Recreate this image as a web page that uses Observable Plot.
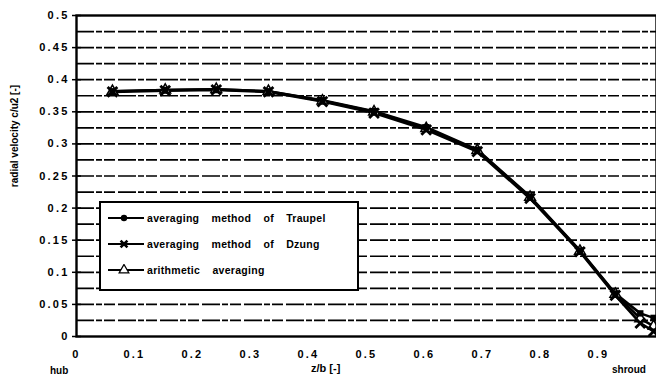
<!DOCTYPE html>
<html>
<head>
<meta charset="utf-8">
<script src="https://cdn.jsdelivr.net/npm/d3@7"></script>
<script src="https://cdn.jsdelivr.net/npm/@observablehq/plot@0.6"></script>
<style>
  html, body { margin: 0; padding: 0; background: #fff; }
  #wrap { position: relative; width: 656px; height: 379px; overflow: hidden; font-family: "Liberation Sans", Arial, sans-serif; font-weight: bold; color: #000; }
  #wrap svg text { letter-spacing: 2.2px; }
  .lbl { position: absolute; font-size: 10px; white-space: nowrap; line-height: 1; }
  #legend { position: absolute; left: 99px; top: 201px; width: 256px; height: 86px; border: 2px solid #000; background: #fff; }
  .entry { position: absolute; left: 20px; height: 12px; display: flex; align-items: center; font-size: 10.5px; word-spacing: 9px; letter-spacing: 0.3px; white-space: nowrap; }
  .entry svg { margin-right: 3px; }
</style>
</head>
<body>
<div id="wrap"></div>
<script>
// z/b positions of the measuring points
const zb = [0.062, 0.153, 0.241, 0.331, 0.424, 0.513, 0.603, 0.691, 0.782, 0.868, 0.929, 0.972, 0.995];
// averaging method of Traupel
const traupel = [0.382, 0.384, 0.385, 0.382, 0.368, 0.351, 0.326, 0.291, 0.218, 0.134, 0.067, 0.036, 0.029];
// averaging method of Dzung
const dzung = [0.381, 0.383, 0.384, 0.381, 0.366, 0.348, 0.322, 0.288, 0.215, 0.132, 0.064, 0.021, 0.008];
// arithmetic averaging
const arith = [0.382, 0.384, 0.385, 0.382, 0.367, 0.350, 0.324, 0.290, 0.217, 0.133, 0.066, 0.028, 0.016];

const seriesNames = ["averaging method of Traupel", "averaging method of Dzung", "arithmetic averaging"];
const yTicks = [0, 0.05, 0.1, 0.15, 0.2, 0.25, 0.3, 0.35, 0.4, 0.45, 0.5];
const xTicks = [0, 0.1, 0.2, 0.3, 0.4, 0.5, 0.6, 0.7, 0.8, 0.9];
const gridY = [0.025, 0.05, 0.075, 0.1, 0.125, 0.15, 0.175, 0.2, 0.225, 0.25, 0.275, 0.3, 0.325, 0.35, 0.375, 0.4, 0.425, 0.45, 0.475];

const rows = [];
zb.forEach((z, i) => {
  rows.push({z, v: traupel[i], s: seriesNames[0]});
  rows.push({z, v: dzung[i], s: seriesNames[1]});
  rows.push({z, v: arith[i], s: seriesNames[2]});
});

const chart = Plot.plot({
  width: 656,
  height: 379,
  marginLeft: 76,
  marginRight: 0,
  marginTop: 15,
  marginBottom: 43,
  style: {fontFamily: "'Liberation Sans', Arial, sans-serif", fontSize: "11px", fontWeight: "bold", color: "#000", background: "#fff"},
  x: {domain: [0, 1]},
  y: {domain: [0, 0.5]},
  marks: [
    Plot.ruleY(gridY, {stroke: "#000", strokeWidth: 1.7, strokeDasharray: "18,2,6,2,11,3"}),
    Plot.axisY({ticks: yTicks, tickSize: 9, dx: 5, tickPadding: 3, label: null, stroke: "#000", strokeWidth: 1.5, tickFormat: d => d === 0 ? "0" : String(d)}),
    Plot.axisX({ticks: xTicks, tickSize: 0, tickPadding: 14, label: null, tickFormat: d => d === 0 ? "0" : String(d)}),
    Plot.line(rows, {x: "z", y: "v", z: "s", stroke: "#000", strokeWidth: 2.6}),
    Plot.dot(rows.filter(d => d.s === seriesNames[2]), {x: "z", y: "v", symbol: "triangle", r: 4, fill: "#fff", stroke: "#000", strokeWidth: 1.5}),
    Plot.dot(rows.filter(d => d.s === seriesNames[0]), {x: "z", y: "v", symbol: "square", r: 3.6, fill: "#000"}),
    Plot.dot(rows.filter(d => d.s === seriesNames[1]), {x: "z", y: "v", symbol: "times", r: 4.5, stroke: "#000", strokeWidth: 2.8}),
    Plot.frame({stroke: "#000", strokeWidth: 2.4})
  ]
});

const wrap = document.getElementById("wrap");
wrap.appendChild(chart);

// axis titles
function addLabel(text, css) {
  const d = document.createElement("div");
  d.className = "lbl";
  d.textContent = text;
  Object.assign(d.style, css);
  wrap.appendChild(d);
  return d;
}
addLabel("z/b [-]", {left: "311px", top: "363px", fontSize: "11px"});
addLabel("hub", {left: "50px", top: "366px", fontSize: "10px"});
addLabel("shroud", {left: "612px", top: "365px", fontSize: "10px"});
addLabel("radial velocity c/u2 [-]", {left: "-50px", top: "131px", fontSize: "10px", transform: "rotate(-90deg)", transformOrigin: "center center", width: "130px", textAlign: "center"});

// legend
const legend = document.createElement("div");
legend.id = "legend";
wrap.appendChild(legend);
const symbols = ["circle", "times", "triangle"];
seriesNames.forEach((name, i) => {
  const e = document.createElement("div");
  e.className = "entry";
  e.style.left = "7px";
  e.style.top = (9 + i * 26) + "px";
  const ns = "http://www.w3.org/2000/svg";
  const s = document.createElementNS(ns, "svg");
  s.setAttribute("width", "36"); s.setAttribute("height", "12");
  const l = document.createElementNS(ns, "line");
  l.setAttribute("x1", "0"); l.setAttribute("x2", "36"); l.setAttribute("y1", "6"); l.setAttribute("y2", "6");
  l.setAttribute("stroke", "#000"); l.setAttribute("stroke-width", "2.2");
  s.appendChild(l);
  const sym = d3.symbol(symbols[i] === "circle" ? d3.symbolCircle : symbols[i] === "times" ? d3.symbolTimes : d3.symbolTriangle, symbols[i] === "triangle" ? 40 : 32)();
  const p = document.createElementNS(ns, "path");
  p.setAttribute("d", sym);
  p.setAttribute("transform", "translate(16,6)");
  if (symbols[i] === "circle") { p.setAttribute("fill", "#000"); }
  else if (symbols[i] === "times") { p.setAttribute("fill", "none"); p.setAttribute("stroke", "#000"); p.setAttribute("stroke-width", "2.6"); }
  else { p.setAttribute("fill", "#fff"); p.setAttribute("stroke", "#000"); p.setAttribute("stroke-width", "1.3"); }
  s.appendChild(p);
  e.appendChild(s);
  const t = document.createElement("span");
  t.textContent = name;
  e.appendChild(t);
  legend.appendChild(e);
});
</script>
</body>
</html>
